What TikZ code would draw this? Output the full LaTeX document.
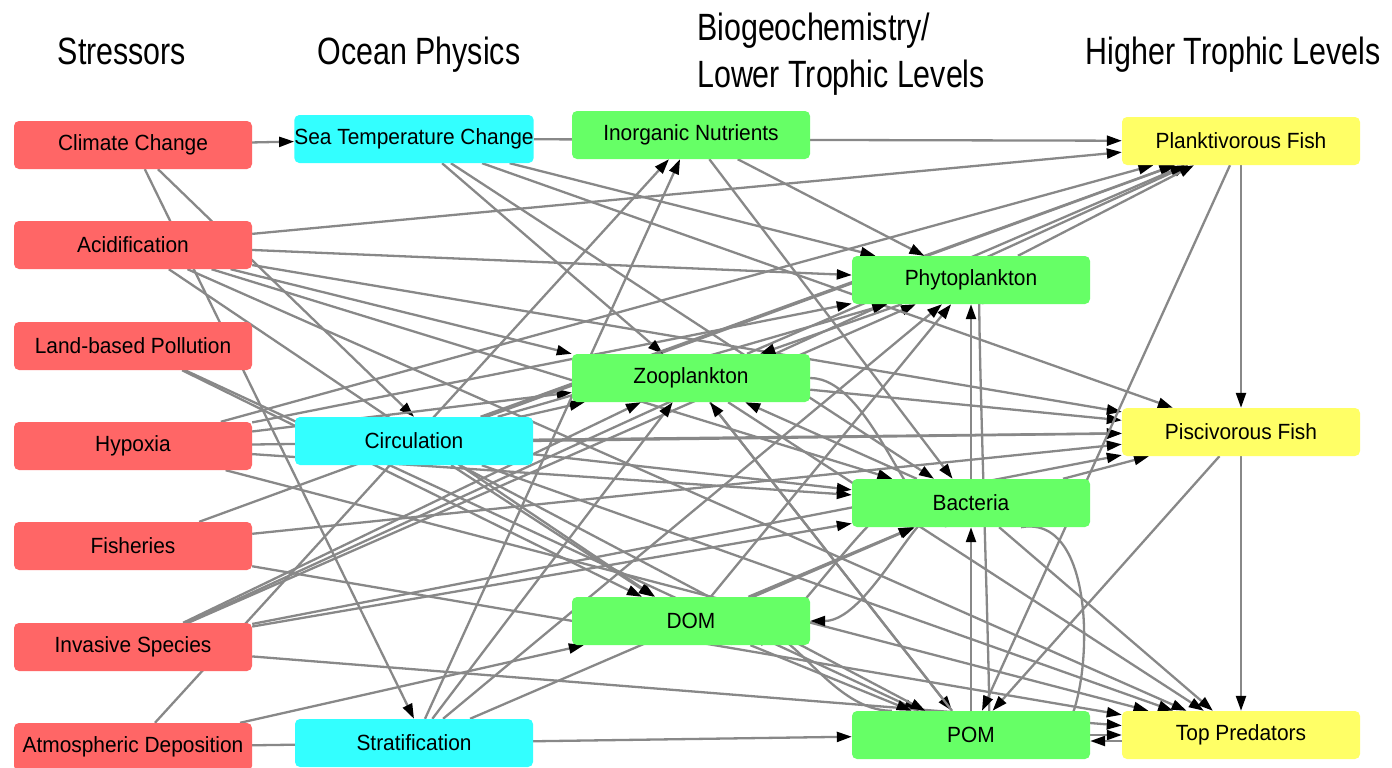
\documentclass[tikz,border=0pt]{standalone}
\usepackage{fontspec}
\setmainfont{Liberation Sans}
\newfontfamily\hdr[FakeStretch=0.8]{Liberation Sans}
\newfontfamily\bxf[FakeStretch=0.95]{Liberation Sans}
\usetikzlibrary{arrows.meta}
\definecolor{cred}{HTML}{FF6666}
\definecolor{ccyan}{HTML}{33FFFF}
\definecolor{cgreen}{HTML}{66FF66}
\definecolor{cyel}{HTML}{FFFF66}
\definecolor{egray}{HTML}{888888}
\pgfdeclarelayer{bg}
\pgfdeclarelayer{edges}
\pgfsetlayers{bg,edges,main}
\begin{document}
\begin{tikzpicture}[x=1pt,y=-1pt,
  box/.style={rounded corners=5pt, minimum width=238pt, minimum height=48pt, inner sep=0pt, font=\bxf\fontsize{22}{26}\selectfont},
  rbox/.style={box, fill=cred},
  cbox/.style={box, fill=ccyan},
  gbox/.style={box, fill=cgreen},
  ybox/.style={box, fill=cyel},
  lnk/.style={draw=egray, line width=2.3pt, -{Triangle[length=15pt,width=10pt,color=black]}},
  hd/.style={font=\hdr\fontsize{38}{44}\selectfont, inner sep=0pt}]
\useasboundingbox (0,0) rectangle (1392,768);
\begin{pgfonlayer}{bg}
\fill[white] (0,0) rectangle (1392,768);
\end{pgfonlayer}
% headers
\node[hd, anchor=base] (h1) at (122,65) {Stressors};
\node[hd, anchor=base] (h2) at (419,65) {Ocean Physics};
\node[hd, anchor=base west] (h3) at (697,41) {Biogeochemistry/};
\node[hd, anchor=base west] (h3b) at (697,87) {Lower Trophic Levels};
\node[hd, anchor=base] (h4) at (1233,65) {Higher Trophic Levels};
% stressors
\node[rbox] (cc) at (133,145) {Climate Change};
\node[rbox] (ac) at (133,245) {Acidification};
\node[rbox] (lp) at (133,346) {Land-based Pollution};
\node[rbox] (hy) at (133,446) {Hypoxia};
\node[rbox] (fi) at (133,546) {Fisheries};
\node[rbox] (inv) at (133,647) {Invasive Species};
\node[rbox] (ad) at (133,747) {Atmospheric Deposition};
% physics
\node[cbox] (st) at (414,139) {Sea Temperature Change};
\node[cbox] (ci) at (414,441) {Circulation};
\node[cbox] (sf) at (414,743) {Stratification};
% biogeochem
\node[gbox] (inu) at (691,135) {Inorganic Nutrients};
\node[gbox] (zo) at (691,378) {Zooplankton};
\node[gbox] (dom) at (691,621) {DOM};
\node[gbox] (ph) at (971,280) {Phytoplankton};
\node[gbox] (ba) at (971,503) {Bacteria};
\node[gbox] (pom) at (971,735) {POM};
% higher
\node[ybox] (pf) at (1241,141) {Planktivorous Fish};
\node[ybox] (pis) at (1241,432) {Piscivorous Fish};
\node[ybox] (tp) at (1241,735) {Top Predators};

\begin{pgfonlayer}{edges}
% climate change
\draw[lnk] (cc) -- (st);
\draw[lnk] (cc) -- (ci.north);
\draw[lnk] (cc) -- (sf.north);
% acidification
\draw[lnk] (ac) -- (pf);
\draw[lnk] (ac) -- (ph);
\draw[lnk] (ac) -- (zo.north west);
\draw[lnk] (ac) -- (ba);
\draw[lnk] (ac) -- (pis);
\draw[lnk] (ac) -- (dom);
\draw[lnk] (ac) -- (tp);
% land-based pollution
\draw[lnk] (lp) -- (dom);
\draw[lnk] (lp) -- (pom);
% hypoxia
\draw[lnk] (hy) -- (pf);
\draw[lnk] (hy) -- (ph);
\draw[lnk] (hy) -- (zo);
\draw[lnk] (hy) -- (pis);
\draw[lnk] (hy) -- (ba);
\draw[lnk] (hy) -- (tp);
% fisheries
\draw[lnk] (fi) -- (pf);
\draw[lnk] (fi) -- (pis);
\draw[lnk] (fi) -- (tp);
% invasive species
\draw[lnk] (inv) -- (zo);
\draw[lnk] (inv) -- (ph);
\draw[lnk] (inv) -- (pf);
\draw[lnk] (inv) -- (ba);
\draw[lnk] (inv) -- (pis);
\draw[lnk] (inv) -- (tp);
% atmospheric deposition
\draw[lnk] (ad) -- (inu);
\draw[lnk] (ad) -- (dom);
\draw[lnk] (ad) -- (pom);
% sea temperature
\draw[lnk] (st) -- (pf);
\draw[lnk] (st) -- (zo);
\draw[lnk] (st) -- (ph);
\draw[lnk] (st) -- (pis);
\draw[lnk] (st) -- (ba);
% circulation
\draw[lnk] (ci) -- (zo);
\draw[lnk] (ci) -- (ph);
\draw[lnk] (ci) -- (pf);
\draw[lnk] (ci) -- (pis);
\draw[lnk] (ci) -- (ba);
\draw[lnk] (ci) -- (dom);
\draw[lnk] (ci) -- (pom);
\draw[lnk] (ci) -- (tp);
% stratification
\draw[lnk] (sf) -- (inu);
\draw[lnk] (sf) -- (zo);
\draw[lnk] (sf) -- (ph);
\draw[lnk] (sf) -- (ba);
% nutrients
\draw[lnk] (inu) -- (ph);
\draw[lnk] (inu) -- (ba);
% zooplankton
\draw[lnk] (zo) -- (pf);
\draw[lnk] (zo) -- (pis);
\draw[lnk] (zo) -- (tp);
\draw[lnk] (zo) -- (pom);
\draw[lnk] (zo.east) to[out=0,in=-110] ([xshift=-35pt]ba.north);
% phytoplankton
\draw[lnk] (ph) -- (pf);
\draw[lnk] (ph) -- (zo);
\draw[lnk] ([xshift=12pt]ph.south) to[out=95,in=-85] ([xshift=14pt]pom.north);
% bacteria
\draw[lnk] (ba) -- (zo);
\draw[lnk] (ba) -- (ph);
\draw[lnk] (ba) -- (pis);
\draw[lnk] (ba) -- (tp);
\draw[lnk] ([xshift=-25pt]ba.south) to[out=100,in=0] (dom.east);
\draw[lnk] ([xshift=50pt]ba.south) to[out=10,in=-60,looseness=1.4] ([xshift=62pt]pom.north);
% DOM
\draw[lnk] (dom) -- (ba);
\draw[lnk] (dom) -- (ph);
\draw[lnk] (dom) -- (pom);
\draw[lnk] ([xshift=70pt]dom.south) to[out=40,in=110] ([xshift=-40pt]ba.south);
% POM
\draw[lnk] (pom) -- (ba);
\draw[lnk] ([xshift=40pt]pom.north west) to[out=180,in=40] ([xshift=40pt]dom.south);
\draw[lnk] (pom) -- (zo);
\draw[lnk] (pom) -- (tp);
% fish
\draw[lnk] (pf) -- (pis);
\draw[lnk] (pf) -- (pom);
\draw[lnk] (pis) -- (tp);
\draw[lnk] (pis) -- (pom);
\draw[lnk] ([yshift=-6pt]tp.west) -- ([yshift=-6pt]pom.east);
\end{pgfonlayer}
\end{tikzpicture}
\end{document}
